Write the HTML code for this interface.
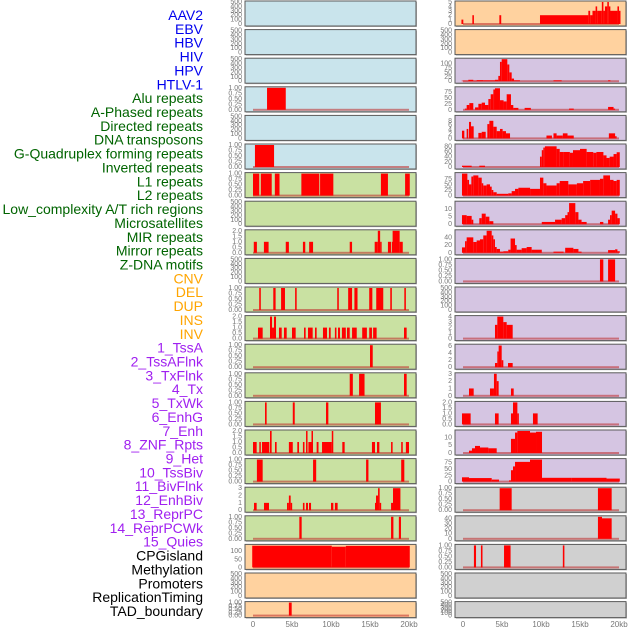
<!DOCTYPE html>
<html><head><meta charset="utf-8"><style>
html,body{margin:0;padding:0;background:#fff;}
svg{display:block;font-family:"Liberation Sans",sans-serif;}
</style></head><body>
<svg id="chart" width="630" height="630" viewBox="0 0 630 630" xmlns="http://www.w3.org/2000/svg">
<g id="labels"></g>
<g id="panels"></g>
<g id="xaxis"></g>
</svg>
<script>
// ---------- data ----------
const featureLabels = ["AAV2","EBV","HBV","HIV","HPV","HTLV-1","Alu repeats","A-Phased repeats","Directed repeats","DNA transposons","G-Quadruplex forming repeats","Inverted repeats","L1 repeats","L2 repeats","Low_complexity A/T rich regions","Microsatellites","MIR repeats","Mirror repeats","Z-DNA motifs","CNV","DEL","DUP","INS","INV","1_TssA","2_TssAFlnk","3_TxFlnk","4_Tx","5_TxWk","6_EnhG","7_Enh","8_ZNF_Rpts","9_Het","10_TssBiv","11_BivFlnk","12_EnhBiv","13_ReprPC","14_ReprPCWk","15_Quies","CPGisland","Methylation","Promoters","ReplicationTiming","TAD_boundary"];
const labelGroups = ["v","v","v","v","v","v","r","r","r","r","r","r","r","r","r","r","r","r","r","s","s","s","s","s","c","c","c","c","c","c","c","c","c","c","c","c","c","c","c","o","o","o","o","o"];
const xTickValues = [0,5,10,15,20];
const xTickLabels = ["0","5kb","10kb","15kb","20kb"];

const T500 = [0,100,200,300,400,500];
const T1 = [0,0.25,0.5,0.75,1];
const T2 = [0,0.5,1,1.5,2];

// left column segments [startKb, endKb, value]
const L3 = [[1.8,4.2,1]];
const L5 = [[0.25,2.7,1]];
const L6 = [[0,0.8,1],[1.0,2.4,1],[2.8,3.4,1],[6.2,8.5,1],[8.6,10.3,1],[16.4,17.3,1],[19.5,20.1,1]];
const L8 = [[0.1,0.5,1],[1.4,2.0,1],[4.2,4.6,1],[6.4,6.7,1],[7.2,7.7,1],[12.4,12.7,1],[15.6,16.0,1],[16.0,16.3,2],[16.3,16.4,1],[17.3,17.7,1],[17.8,17.9,1],[17.9,18.8,2],[18.8,19.2,1]];
const L10 = [[0.8,1.0,1],[2.6,2.9,1],[3.6,4.1,1],[5.4,5.6,1],[10.8,11.0,1],[12.2,12.7,1],[13.0,13.4,1],[14.9,15.3,1],[15.8,16.7,1],[17.6,17.8,1],[19.4,19.6,1]];
const L11 = [[0.64,1.24,1],[2.18,2.44,2],[2.44,2.69,1],[2.69,2.95,2],[3.33,3.68,1],[3.97,4.32,1],[5.0,5.47,1],[6.54,6.75,1],[7.05,7.65,1],[7.95,8.16,1],[8.97,9.49,1],[9.74,9.96,1],[10.5,10.7,1],[10.9,11.15,1],[11.4,11.9,1],[12.05,12.4,1],[12.7,13.3,1],[14.0,14.6,1],[14.9,15.25,1],[15.4,15.85,1],[19.36,19.7,1]];
const L12 = [[15.0,15.35,1]];
const L13 = [[12.4,12.8,1],[13.6,14.3,1],[19.36,19.7,1]];
const L14 = [[1.54,1.75,1],[5.1,5.35,1],[9.36,9.66,1],[15.64,16.4,1]];
const L15 = [[0,0.47,1],[0.81,0.98,1],[1.15,2.09,1],[2.18,2.39,2],[2.82,3.03,1],[4.6,5.1,1],[5.68,5.9,1],[6.4,6.6,1],[6.8,6.97,2],[7.1,7.5,1],[7.5,7.65,2],[8.16,8.4,1],[8.85,10.1,1],[10.1,10.2,2],[11.45,11.75,1],[15.25,15.64,1],[15.9,16.2,1],[17.7,17.9,1],[19.0,19.2,1],[19.6,20.0,1]];
const L16 = [[0.5,1.24,1],[7.7,8.1,1],[14.5,14.8,1],[19.0,19.4,1]];
const L17 = [[0.13,0.47,1],[1.41,2.05,1],[4.36,4.6,1],[4.6,4.83,2],[4.83,4.96,1],[6.4,6.6,1],[6.8,7.05,1],[7.18,7.44,1],[10.0,10.3,1],[10.5,10.85,1],[15.64,15.77,1],[15.77,16.03,2],[16.03,16.24,3],[16.24,16.4,1],[17.7,17.95,1],[17.95,18.9,3]];
const L18 = [[5.94,6.24,1],[17.7,18.0,1],[18.7,18.97,1]];
const L19 = [[-0.1,10.1,133],[10.1,11.9,127],[11.9,20.1,132]];
const L21 = [[4.6,4.96,1]];

// right column segments
const R0 = [[-0.2,0.04,1],[1.2,1.4,2],[4.66,4.9,2],[9.87,16.07,2],[16.07,16.3,3],[16.3,16.6,2],[16.6,17.0,3],[17.0,17.2,4],[17.2,17.8,3],[17.8,18.0,5],[18.0,18.2,3],[18.2,18.5,4],[18.5,18.7,5],[18.7,18.85,4],[18.85,19.8,3],[19.8,20.0,4],[20.0,20.1,3]];
const R2 = [[-0.17,0.68,3],[0.68,1.32,8],[1.32,1.75,3],[1.75,2.6,6],[2.6,4.1,5],[4.1,4.53,8],[4.53,4.74,30],[4.74,4.96,110],[4.96,5.68,125],[5.68,5.94,95],[5.94,6.24,50],[6.24,6.54,15],[6.54,7.3,5],[11.6,12.65,5],[18.6,18.9,5]];
const R3 = [[0.25,0.47,5],[0.47,0.81,20],[0.81,1.32,28],[1.54,1.97,10],[1.97,2.4,25],[2.4,2.82,30],[2.82,3.25,20],[3.25,3.55,45],[3.55,3.89,65],[3.89,4.1,85],[4.1,4.74,90],[4.74,5.2,40],[5.2,5.6,35],[5.6,6.15,65],[6.15,6.45,20],[6.45,7.1,8],[7.9,8.7,8],[13.6,14.2,5],[18.6,19.3,12],[19.3,19.5,5]];
const R4 = [[-0.13,0.17,3.5],[0.47,0.68,4.3],[0.77,1.03,7.5],[1.03,1.37,5.5],[1.97,2.4,2.5],[2.4,2.91,3],[3.12,3.38,6.5],[3.38,3.89,8],[3.89,4.32,5.3],[4.32,4.74,3.3],[4.74,5.08,4.3],[5.08,5.51,3.3],[5.51,6.03,2.3],[10.7,11.4,1.3],[11.6,12.0,2.3],[12.0,12.8,1.3],[12.8,13.4,2.3],[13.4,14.2,1.3],[18.7,19.5,2.3],[19.5,19.6,1]];
const R5 = [[-0.13,1.11,5],[2.09,2.82,5],[9.87,10.1,40],[10.1,10.3,65],[10.3,10.5,75],[10.5,12.0,80],[12.0,12.4,70],[12.4,12.9,58],[12.9,13.7,58],[13.7,14.1,55],[14.1,15.0,65],[15.0,15.85,70],[15.85,16.7,58],[16.7,17.1,55],[17.1,18.0,58],[18.0,18.4,45],[18.4,18.8,35],[18.8,19.3,40],[19.3,19.7,50],[19.7,20.1,57]];
const R6 = [[-0.13,0.56,98],[0.56,0.77,70],[0.77,1.07,50],[1.07,1.32,85],[1.32,1.97,90],[1.97,2.4,80],[2.4,2.6,55],[2.6,3.03,45],[3.03,3.46,50],[3.46,3.68,40],[3.68,3.89,25],[3.89,4.32,15],[4.32,5.8,8],[5.8,6.24,10],[6.24,6.67,20],[6.67,7.1,30],[7.1,8.6,35],[8.6,9.87,30],[9.87,10.3,80],[10.3,10.7,55],[10.7,12.0,45],[12.0,12.4,55],[12.4,13.5,65],[13.5,14.6,50],[14.6,15.4,55],[15.4,16.3,65],[16.3,17.56,70],[17.56,17.99,75],[17.99,18.85,90],[18.85,19.3,70],[19.3,19.7,65],[19.7,20.1,70]];
const R7 = [[-0.13,0.47,6],[0.47,1.11,5.5],[1.11,1.32,3],[2.09,2.4,4],[2.4,2.91,7],[2.91,3.38,5],[3.38,3.89,2],[10.1,11.8,1.5],[11.8,12.65,3],[12.65,13.1,4],[13.1,13.4,6],[13.4,13.6,8],[13.6,14.4,14],[14.4,14.8,8],[14.8,15.2,3],[15.2,15.85,1.5],[17.56,17.99,1.5],[18.6,18.85,3],[18.85,19.06,6],[19.06,19.5,9],[19.5,19.8,7],[19.8,20.1,4]];
const R8 = [[-0.13,0.26,14],[0.26,0.47,30],[0.47,1.32,40],[1.32,1.75,28],[1.75,2.18,32],[2.18,2.6,35],[2.6,3.03,45],[3.03,3.68,57],[3.68,3.89,45],[3.89,4.1,35],[4.1,4.32,15],[4.32,4.74,10],[4.74,5.17,3],[5.17,5.8,4],[5.8,6.1,8],[6.1,6.67,37],[6.67,6.88,20],[6.88,7.52,8],[7.52,8.16,12],[8.16,8.8,15],[8.8,10.1,8],[11.6,12.9,3],[13.1,14.15,13],[14.15,14.8,10],[14.8,15.2,3],[18.6,19.5,7],[19.5,19.8,9],[19.8,20.1,4]];
const R9 = [[17.56,17.99,1],[18.6,19.5,1]];
const R11 = [[4.1,4.4,2.5],[4.4,5.17,4],[5.17,5.6,3],[5.6,6.37,2.5]];
const R12 = [[4.1,4.4,1.2],[4.4,4.57,4.5],[4.57,4.96,6.2],[4.96,5.17,2],[5.77,6.37,1.2]];
const R13 = [[0.77,1.37,1],[3.46,3.97,1],[3.97,4.32,3],[4.32,4.57,2],[6.15,6.5,1]];
const R14 = [[-0.13,0.98,1],[4.1,4.57,1],[6.15,6.41,1],[6.41,6.97,2],[6.97,7.14,1],[8.97,9.57,1]];
const R15 = [[0.77,1.15,1.5],[1.15,1.54,3],[1.54,2.18,4.5],[2.18,3.25,3.5],[3.25,4.32,3],[6.15,6.67,9],[6.67,6.97,13],[6.97,8.59,14],[8.59,9.36,13],[9.36,10.13,13.5]];
const R16 = [[-0.13,0.77,17],[0.77,3.68,14],[3.68,4.62,8],[5.9,6.15,5],[6.15,6.41,45],[6.41,6.67,60],[6.67,8.59,78],[8.59,10.13,87],[10.13,13.93,15],[13.93,18.4,15],[18.4,20.1,12]];
const R17 = [[4.7,6.24,1],[17.3,19.06,1]];
const R18 = [[17.3,17.82,43],[17.82,19.06,40]];
const R19 = [[1.4,1.67,1],[2.3,2.5,1],[5.26,6.1,1],[12.8,13.0,1]];

const T8 = [0,2,4,6,8];
const T80 = [0,20,40,60,80];
const T75 = [0,25,50,75];
const T10 = [0,5,10];
const T40 = [0,20,40];
const T40b = [0,10,20,30,40];
const T4 = [0,1,2,3,4];
const T6 = [0,2,4,6];
const T3 = [0,1,2,3];
const T100 = [0,25,50,75,100];
const T5 = [0,1,2,3,4,5];
const TC = [0,50,100];

// [column, row, colour, segments, ticks, max, decimals]
const panelSpecs = [
 ["L",0,"b",[],T500,500,0],["L",1,"b",[],T500,500,0],["L",2,"b",[],T500,500,0],
 ["L",3,"b",L3,T1,1,2],["L",4,"b",[],T500,500,0],["L",5,"b",L5,T1,1,2],
 ["L",6,"g",L6,T1,1,2],["L",7,"g",[],T500,500,0],["L",8,"g",L8,T2,2,1],
 ["L",9,"g",[],T500,500,0],["L",10,"g",L10,T1,1,2],["L",11,"g",L11,T2,2,1],
 ["L",12,"g",L12,T1,1,2],["L",13,"g",L13,T1,1,2],["L",14,"g",L14,T1,1,2],
 ["L",15,"g",L15,T2,2,1],["L",16,"g",L16,T1,1,2],["L",17,"g",L17,T3,3,0],
 ["L",18,"g",L18,T1,1,2],["L",19,"p",L19,TC,135,0],["L",20,"p",[],T500,500,0],
 ["L",21,"p",L21,T1,1,2],
 ["R",0,"p",R0,T5,5,0],["R",1,"p",[],T500,500,0],["R",2,"l",R2,T100,125,0],
 ["R",3,"l",R3,T75,92,0],["R",4,"l",R4,T8,10,0],["R",5,"l",R5,T80,85,0],
 ["R",6,"l",R6,T75,98,0],["R",7,"l",R7,T10,14.6,0],["R",8,"l",R8,T40,57,0],
 ["R",9,"l",R9,T1,1,2],["R",10,"l",[],T500,500,0],["R",11,"l",R11,T4,4,0],
 ["R",12,"l",R12,T6,6.3,0],["R",13,"l",R13,T3,3,0],["R",14,"l",R14,T2,2,1],
 ["R",15,"l",R15,T10,14,0],["R",16,"l",R16,T75,87,0],["R",17,"y",R17,T1,1,2],
 ["R",18,"y",R18,T40b,43,0],["R",19,"y",R19,T1,1,2],["R",20,"y",[],T500,500,0],
 ["R",21,"y",[],T500,500,0]
];

// ---------- drawing ----------
const NS = "http://www.w3.org/2000/svg";
const fills = {b:"#c9e4ec", g:"#c9e1a2", p:"#ffd29f", l:"#d5c5e2", y:"#d0d0d0"};
const labelColors = {v:"#0000ee", r:"#006400", s:"#ffa500", c:"#a020f0", o:"#000000"};
const colLeft = {L:245, R:455};
const panelW = 171;
const kbScale = 7.8;
function xScale(col, kb){ return colLeft[col] + 8 + kb*kbScale; }
function rowTop(r){ return 1 + r*28.6; }
function rowH(r){ return r===21 ? 16 : 25; }
function yScale(r, v, max){ const t=rowTop(r), h=rowH(r); return t+h-2 - (v/max)*(h-3); }
function mk(tag, attrs, parent){ const e=document.createElementNS(NS,tag); for(const k in attrs) e.setAttribute(k, attrs[k]); parent.appendChild(e); return e; }

const lg = document.getElementById("labels");
featureLabels.forEach((txt,i)=>{
  const t = mk("text",{x:203,y:15+i*13.86,"text-anchor":"end","dominant-baseline":"central","font-size":"14",fill:labelColors[labelGroups[i]]},lg);
  t.textContent = txt;
  
  
});

const pg = document.getElementById("panels");
panelSpecs.forEach(spec=>{
  const [col,row,fc,segs,ticks,max,dec] = spec;
  const g = mk("g",{},pg);
  
  
  const top=rowTop(row), h=rowH(row), x0=colLeft[col];
  mk("rect",{x:x0+1,y:top+1,width:panelW,height:h,fill:"#b8b8b8"},g);
  mk("rect",{x:x0,y:top,width:panelW,height:h,fill:fills[fc],stroke:"#5a5a5a","stroke-width":1},g);
  ticks.forEach(tv=>{
    const tt = mk("text",{x:x0-3,y:yScale(row,tv,max)+2,"text-anchor":"end","font-size":"7",fill:"#777"},g);
    tt.textContent = tv.toFixed(dec);
    
    
  });
  if(segs.length){
    const base = yScale(row,0,max);
    const bl = mk("rect",{x:xScale(col,0),y:base-1,width:20*kbScale,height:2,fill:"rgba(190,40,40,0.55)"},g);
    
    
    segs.forEach(s=>{
      const xa=xScale(col,s[0]), xb=xScale(col,s[1]);
      const yt=yScale(row,Math.min(s[2],max),max);
      const b = mk("rect",{x:xa,y:yt,width:Math.max(1.5,xb-xa),height:base-yt,fill:"#ff0000"},g);
      
      
    });
  }
});

const xg = document.getElementById("xaxis");
["L","R"].forEach(col=>{
  xTickValues.forEach((v,i)=>{
    const t = mk("text",{x:xScale(col,v),y:627,"text-anchor":"middle","font-size":"8",fill:"#777"},xg);
    t.textContent = xTickLabels[i];
    
    
  });
});
</script>
</body></html>
